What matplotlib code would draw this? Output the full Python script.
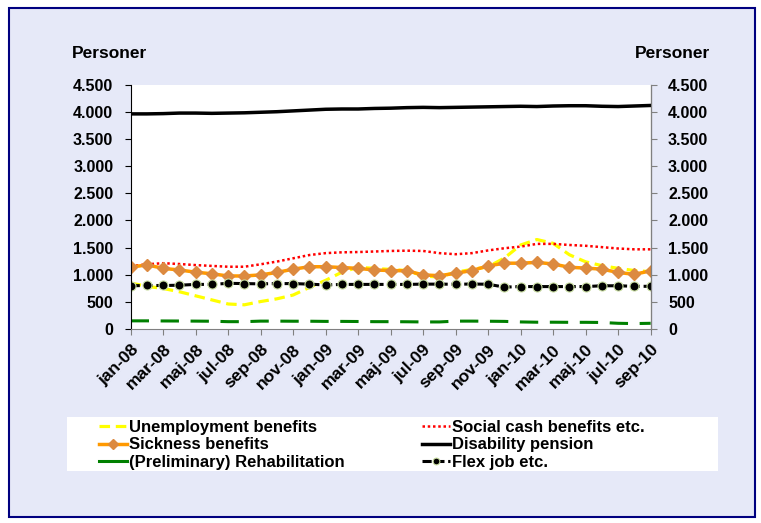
import matplotlib.pyplot as plt
from matplotlib.ticker import FuncFormatter, MultipleLocator
from matplotlib.patches import Rectangle
from matplotlib.lines import Line2D

plt.rcParams['font.family'] = ['Liberation Sans', 'DejaVu Sans']
plt.rcParams['font.weight'] = 'bold'

months = ['jan', 'feb', 'mar', 'apr', 'maj', 'jun', 'jul', 'aug', 'sep', 'okt', 'nov', 'dec']
labels = [f"{m}-{y:02d}" for y in (8, 9, 10) for m in months][:33]

unemployment = [850, 790, 750, 690, 615, 540, 465, 450, 510, 560, 630, 770, 900, 1050, 1140,
                1120, 1100, 1080, 980, 960, 1050, 1100, 1150, 1310, 1550, 1650, 1580, 1370,
                1240, 1170, 1120, 1080, 1060]
social = [1160, 1195, 1215, 1200, 1180, 1165, 1150, 1150, 1195, 1245, 1305, 1365, 1400, 1415,
          1420, 1430, 1440, 1445, 1440, 1400, 1380, 1400, 1450, 1490, 1520, 1570, 1570, 1550,
          1535, 1510, 1485, 1470, 1470]
sickness = [1140, 1185, 1120, 1090, 1050, 1020, 980, 980, 1000, 1045, 1105, 1150, 1150, 1135,
            1120, 1090, 1080, 1075, 1000, 985, 1030, 1080, 1165, 1215, 1215, 1230, 1200, 1140,
            1125, 1105, 1045, 1010, 1075]
disability = [3960, 3960, 3965, 3975, 3975, 3970, 3975, 3980, 3990, 4000, 4015, 4030, 4045,
              4050, 4050, 4060, 4065, 4075, 4080, 4075, 4080, 4085, 4090, 4095, 4100, 4095,
              4105, 4110, 4110, 4100, 4095, 4105, 4115]
rehab = [155, 155, 153, 152, 150, 148, 140, 140, 150, 150, 148, 148, 145, 145, 143, 140, 140,
         138, 135, 135, 150, 150, 148, 145, 135, 130, 130, 128, 128, 125, 110, 105, 110]
flex = [800, 805, 805, 810, 825, 825, 845, 840, 835, 840, 840, 830, 815, 825, 825, 825, 825,
        825, 830, 830, 828, 832, 828, 775, 785, 785, 785, 785, 785, 800, 800, 790, 790]

bg = '#E6E9F8'
fs = 11.5
fig = plt.figure(figsize=(7.61, 5.23), dpi=100, facecolor='white')
fig.patches.append(Rectangle((0.012, 0.012), 0.98, 0.972, transform=fig.transFigure,
                             facecolor=bg, edgecolor='#000080', linewidth=1.5, zorder=-2))
# white box behind the legend
fig.patches.append(Rectangle((67 / 761, 1 - 471 / 523), 651 / 761, 54 / 523,
                             transform=fig.transFigure, facecolor='white',
                             edgecolor='none', zorder=-1))

ax = fig.add_axes([0.1717, 0.3704, 0.6833, 0.468])
x = list(range(len(labels)))

l1, = ax.plot(x, unemployment, color='#FFFF00', lw=2.3, dashes=(3.3, 1.8))
l2, = ax.plot(x, social, color='#FF0000', lw=1.8, dashes=(1, 1.1))
l3, = ax.plot(x, sickness, color='#FF9900', lw=2.5, marker='D', ms=6.5,
              markerfacecolor='#DC8A40', markeredgecolor='#DC8A40')
l4, = ax.plot(x, disability, color='black', lw=2.5)
l5, = ax.plot(x, rehab, color='#008000', lw=2.2, dashes=(6, 3.8))
l6, = ax.plot(x, flex, color='black', lw=2.2, dashes=(3, 1.2), marker='o', ms=6.5,
              markerfacecolor='black', markeredgecolor='#C8DCA0', markeredgewidth=0.8)

ax.set_xlim(0, 32)
ax.set_ylim(0, 4500)
ax.yaxis.set_major_locator(MultipleLocator(500))
fmt = FuncFormatter(lambda v, p: f"{int(v):,}".replace(',', '.'))
ax.yaxis.set_major_formatter(fmt)
ax.set_xticks(x[::2])
ax.set_xticklabels(labels[::2], rotation=45, ha='right', rotation_mode='anchor')
ax.tick_params(axis='y', labelsize=fs, length=4, pad=8.5)
ax.tick_params(axis='x', labelsize=12.5, length=4, pad=5, color='#808080')
ax.spines['top'].set_visible(False)
ax.spines['bottom'].set_color('#808080')
ax.spines['left'].set_color('black')

ax2 = ax.twinx()
ax2.set_ylim(0, 4500)
ax2.yaxis.set_major_locator(MultipleLocator(500))
ax2.yaxis.set_major_formatter(fmt)
ax2.tick_params(labelsize=fs, length=4, pad=8.5, color='#808080')
ax2.spines['top'].set_visible(False)
ax2.spines['right'].set_color('#808080')
ax2.spines['left'].set_visible(False)
ax2.spines['bottom'].set_visible(False)

fig.text(72 / 761, 1 - 53 / 523, 'Personer', fontsize=12.5, fontweight='bold',
         ha='left', va='center')
fig.text(710 / 761, 1 - 53 / 523, 'Personer', fontsize=12.5, fontweight='bold',
         ha='right', va='center')

# short solid handle for the green series, as in the original legend
rehab_handle = Line2D([], [], color='#008000', lw=2.2)

legend_opts = dict(loc='upper left', fontsize=12, frameon=False, borderaxespad=0,
                   borderpad=0, handlelength=1.7, handletextpad=0.08,
                   labelspacing=0.14, markerscale=0.75)
leg1 = fig.legend([l1, l3, rehab_handle],
                  ['Unemployment benefits', 'Sickness benefits', '(Preliminary) Rehabilitation'],
                  bbox_to_anchor=(99 / 761, 1 - 420 / 523), **legend_opts)
leg2 = fig.legend([l2, l4, l6],
                  ['Social cash benefits etc.', 'Disability pension', 'Flex job etc.'],
                  bbox_to_anchor=(422 / 761, 1 - 420 / 523), **legend_opts)

fig.savefig('out.png', dpi=100, facecolor='white')
